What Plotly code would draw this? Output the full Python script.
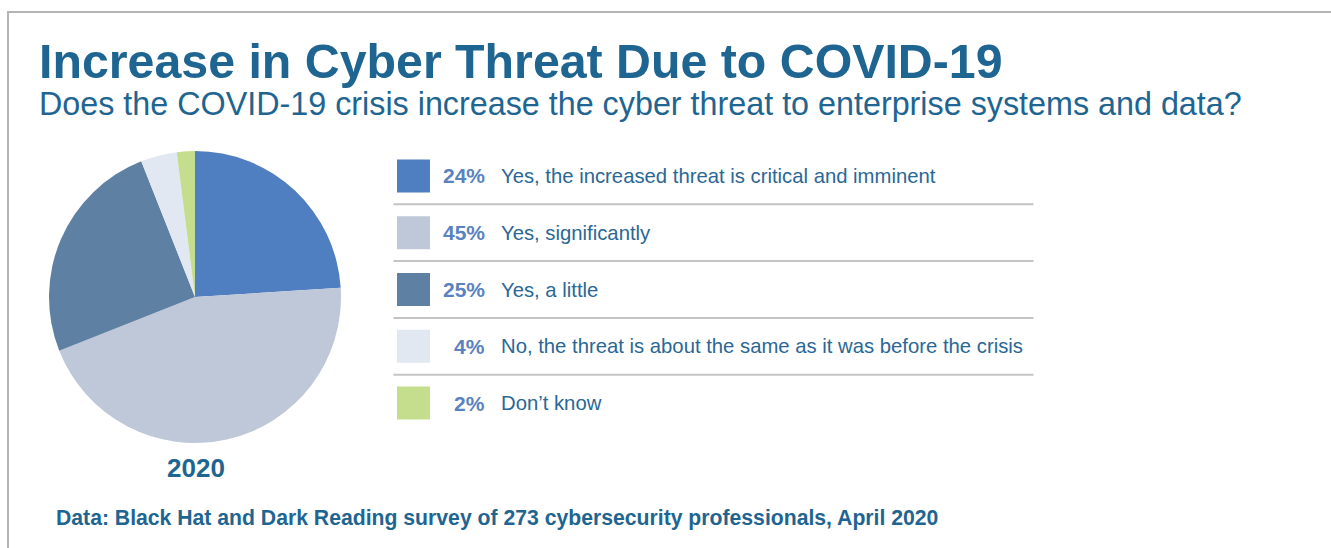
import plotly.graph_objects as go

# ---- data -------------------------------------------------------------
answers = [
    "Yes, the increased threat is critical and imminent",
    "Yes, significantly",
    "Yes, a little",
    "No, the threat is about the same as it was before the crisis",
    "Don\u2019t know",
]
shares = [24, 45, 25, 4, 2]
slice_colors = ["#4F7FC0", "#BFC8D9", "#5E80A2", "#E1E8F1", "#C5DE8E"]
year_label = "2020"
title_text = "Increase in Cyber Threat Due to COVID-19"
subtitle_text = "Does the COVID-19 crisis increase the cyber threat to enterprise systems and data?"
source_text = "Data: Black Hat and Dark Reading survey of 273 cybersecurity professionals, April 2020"

# ---- layout helpers (pixel -> paper) ---------------------------------
W, H = 1331, 548
FONT = "Liberation Sans, Arial, Helvetica, sans-serif"
DARK_BLUE = "#1F6591"
LABEL_BLUE = "#2A6796"
PCT_BLUE = "#5A82BF"
FRAME = "#B4B4B4"


def px(x):
    return x / W


def py(y):
    return 1 - y / H


fig = go.Figure()

# pie, starting at 12 o'clock and running clockwise
fig.add_trace(go.Pie(
    values=shares,
    labels=answers,
    marker=dict(colors=slice_colors, line=dict(width=0)),
    sort=False,
    direction="clockwise",
    rotation=0,
    textinfo="none",
    hoverinfo="label+percent",
    domain=dict(x=[px(49), px(341)], y=[py(443), py(151)]),
    showlegend=False,
))

# custom legend: one colour square per answer row
rows = list(range(len(answers)))
fig.add_trace(go.Scatter(
    x=[0] * len(answers),
    y=rows,
    mode="markers",
    marker=dict(symbol="square", size=33, color=slice_colors, line=dict(width=0)),
    hoverinfo="skip",
    showlegend=False,
    xaxis="x",
    yaxis="y",
))

annotations = []
for i, (ans, val) in enumerate(zip(answers, shares)):
    annotations.append(dict(
        x=73, y=i, xref="x", yref="y", xanchor="right", yanchor="middle",
        text=f"{val}%", showarrow=False,
        font=dict(family=FONT, size=21, color=PCT_BLUE, weight="bold"),
    ))
    annotations.append(dict(
        x=85, y=i, xref="x", yref="y", xanchor="left", yanchor="middle",
        text=ans, showarrow=False,
        font=dict(family=FONT, size=20.3, color=LABEL_BLUE),
    ))

# headings, year caption and source line
annotations += [
    dict(x=px(37), y=py(61.4), xref="paper", yref="paper", xanchor="left", yanchor="middle",
         text=title_text, showarrow=False,
         font=dict(family=FONT, size=48.3, color=DARK_BLUE, weight="bold")),
    dict(x=px(37), y=py(103.9), xref="paper", yref="paper", xanchor="left", yanchor="middle",
         text=subtitle_text, showarrow=False,
         font=dict(family=FONT, size=32.3, color=DARK_BLUE)),
    dict(x=px(196), y=py(467.8), xref="paper", yref="paper", xanchor="center", yanchor="middle",
         text=year_label, showarrow=False,
         font=dict(family=FONT, size=26, color=DARK_BLUE, weight="bold")),
    dict(x=px(54), y=py(517.7), xref="paper", yref="paper", xanchor="left", yanchor="middle",
         text=source_text, showarrow=False,
         font=dict(family=FONT, size=21.2, color=DARK_BLUE, weight="bold")),
]

shapes = []
# row separators between legend entries
for i in rows[:-1]:
    shapes.append(dict(type="line", xref="x", yref="y", x0=-20, x1=620, y0=i + 0.5, y1=i + 0.5,
                       line=dict(color="#C4C4C4", width=2)))
# frame lines along the top and left edges
shapes.append(dict(type="line", xref="paper", yref="paper", x0=px(7), x1=1, y0=py(12), y1=py(12),
                   line=dict(color=FRAME, width=2)))
shapes.append(dict(type="line", xref="paper", yref="paper", x0=px(8), x1=px(8), y0=py(12), y1=0,
                   line=dict(color=FRAME, width=2)))

fig.update_layout(
    width=W,
    height=H,
    margin=dict(l=0, r=0, t=0, b=0),
    paper_bgcolor="white",
    plot_bgcolor="white",
    xaxis=dict(domain=[px(390), px(1040)], range=[-23.5, 626.5], visible=False, fixedrange=True),
    yaxis=dict(domain=[py(431.4), py(147.6)], range=[4.5, -0.5], visible=False, fixedrange=True),
    annotations=annotations,
    shapes=shapes,
    showlegend=False,
)

fig.write_html("out.html", config={"displayModeBar": False})
